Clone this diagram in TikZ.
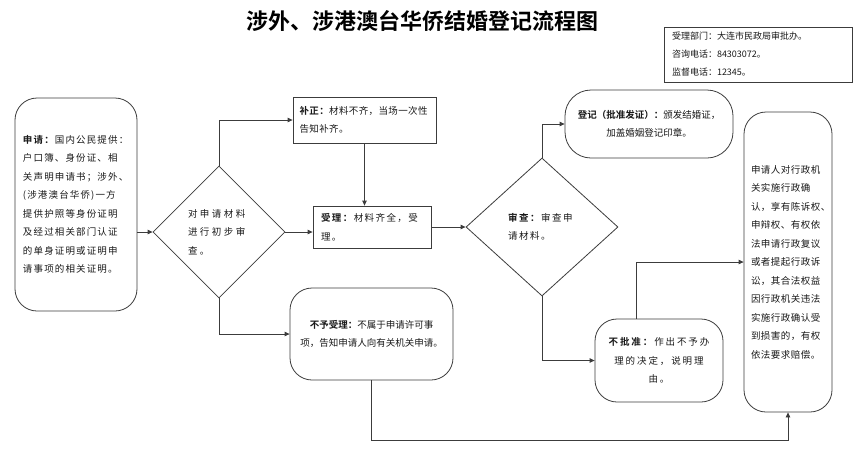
\documentclass[tikz,border=0pt]{standalone}
\usepackage{fontspec}
\setmainfont{Noto Sans CJK SC}[BoldFont={Noto Sans CJK SC Bold}]
\usepackage{tikz}
\usetikzlibrary{shapes.geometric, arrows.meta, calc}
\definecolor{mydark}{RGB}{60,60,60}
\definecolor{mytext}{RGB}{25,25,25}
\newcommand{\bodyfont}{\fontsize{9.5}{18.5}\selectfont}
\tikzset{
  box/.style={rectangle, draw=mydark, line width=0.8pt, fill=white,
    font=\bodyfont, text=mytext, inner sep=0pt},
  roundbox/.style={box, rounded corners=22pt},
  decision/.style={diamond, draw=mydark, line width=0.8pt, fill=white,
    font=\bodyfont, text=mytext, inner sep=0pt, align=left},
  spread/.style={font=\bodyfont\addfontfeature{LetterSpace=#1}},
  arrow/.style={-{Triangle[length=5pt,width=4.5pt]}, line width=0.8pt, color=mydark}
}

\begin{document}
\begin{tikzpicture}[x=1pt, y=-1pt]
  \useasboundingbox (0,0) rectangle (860,456);

  % title and contact box
  \node[font=\fontsize{22}{24}\selectfont\bfseries] (title) at (422,21) {涉外、涉港澳台华侨结婚登记流程图};
  \node[box, minimum width=188, minimum height=55, text width=172, align=left,
    font=\fontsize{9}{18}\selectfont] (info) at (758,54.5)
    {受理部门：大连市民政局审批办。\\咨询电话：84303072。\\监督电话：12345。};

  % left column
  \node[roundbox, spread=12, minimum width=122, minimum height=213, text width=106, align=left] (shenqing) at (76,204.5)
    {\textbf{申请：}国内公民提供：\\户口簿、身份证、相\\关声明申请书；涉外、\\(涉港澳台华侨)一方\\提供护照等身份证明\\及经过相关部门认证\\的单身证明或证明申\\请事项的相关证明。};
  \node[decision, spread=26, minimum width=132, minimum height=132, text width=62] (d1) at (219,232)
    {对申请材料\\进行初步审\\查。};

  % middle column
  \node[box, spread=4, minimum width=143, minimum height=46, text width=130, align=left] (buzheng) at (364.5,120)
    {\textbf{补正：}材料不齐，当场一次性\\告知补齐。};
  \node[box, spread=15, minimum width=118, minimum height=42, text width=102, align=left] (shouli) at (372,227)
    {\textbf{受理：}材料齐全，受\\理。};
  \node[roundbox, minimum width=163, minimum height=92, align=center] (buyu) at (371.5,334)
    {\textbf{不予受理：}不属于申请许可事\\项，告知申请人向有关机关申请。};

  % review and results
  \node[decision, spread=16, minimum width=152, minimum height=138, text width=68] (d2) at (542,227)
    {\textbf{审查：}审查申\\请材料。};
  \node[roundbox, rounded corners=26pt, minimum width=168, minimum height=68, align=center] (dengji) at (649,124)
    {\textbf{登记（批准发证）：}颁发结婚证，\\加盖婚姻登记印章。};
  \node[roundbox, spread=20, minimum width=128, minimum height=83, align=center] (bupizhun) at (659,360.5)
    {\textbf{不批准：}作出不予办\\理的决定，说明理\\由。};
  \node[roundbox, spread=5, minimum width=88, minimum height=300, text width=74, align=left] (shensu) at (788,262)
    {申请人对行政机\\关实施行政确\\认，享有陈诉权、\\申辩权、有权依\\法申请行政复议\\或者提起行政诉\\讼，其合法权益\\因行政机关违法\\实施行政确认受\\到损害的，有权\\依法要求赔偿。};

  % connectors
  \draw[arrow] (shenqing.east |- d1.west) -- (d1.west);
  \draw[arrow] (d1.north) |- (buzheng.west);
  \draw[arrow] (buzheng.south) -- (buzheng.south |- shouli.north);
  \draw[arrow] (d1.east) -- (d1.east -| shouli.west);
  \draw[arrow] (d1.south) |- (buyu.west);
  \draw[arrow] (shouli.east) -- (shouli.east -| d2.west);
  \draw[arrow] (d2.north) |- (dengji.west);
  \draw[arrow] (d2.south) |- (bupizhun.west);
  \draw[arrow] ([xshift=-23pt]bupizhun.north) |- (shensu.west);
  \draw[arrow] (buyu.south) -- ++(0,60) -| (shensu.south);
\end{tikzpicture}
\end{document}
